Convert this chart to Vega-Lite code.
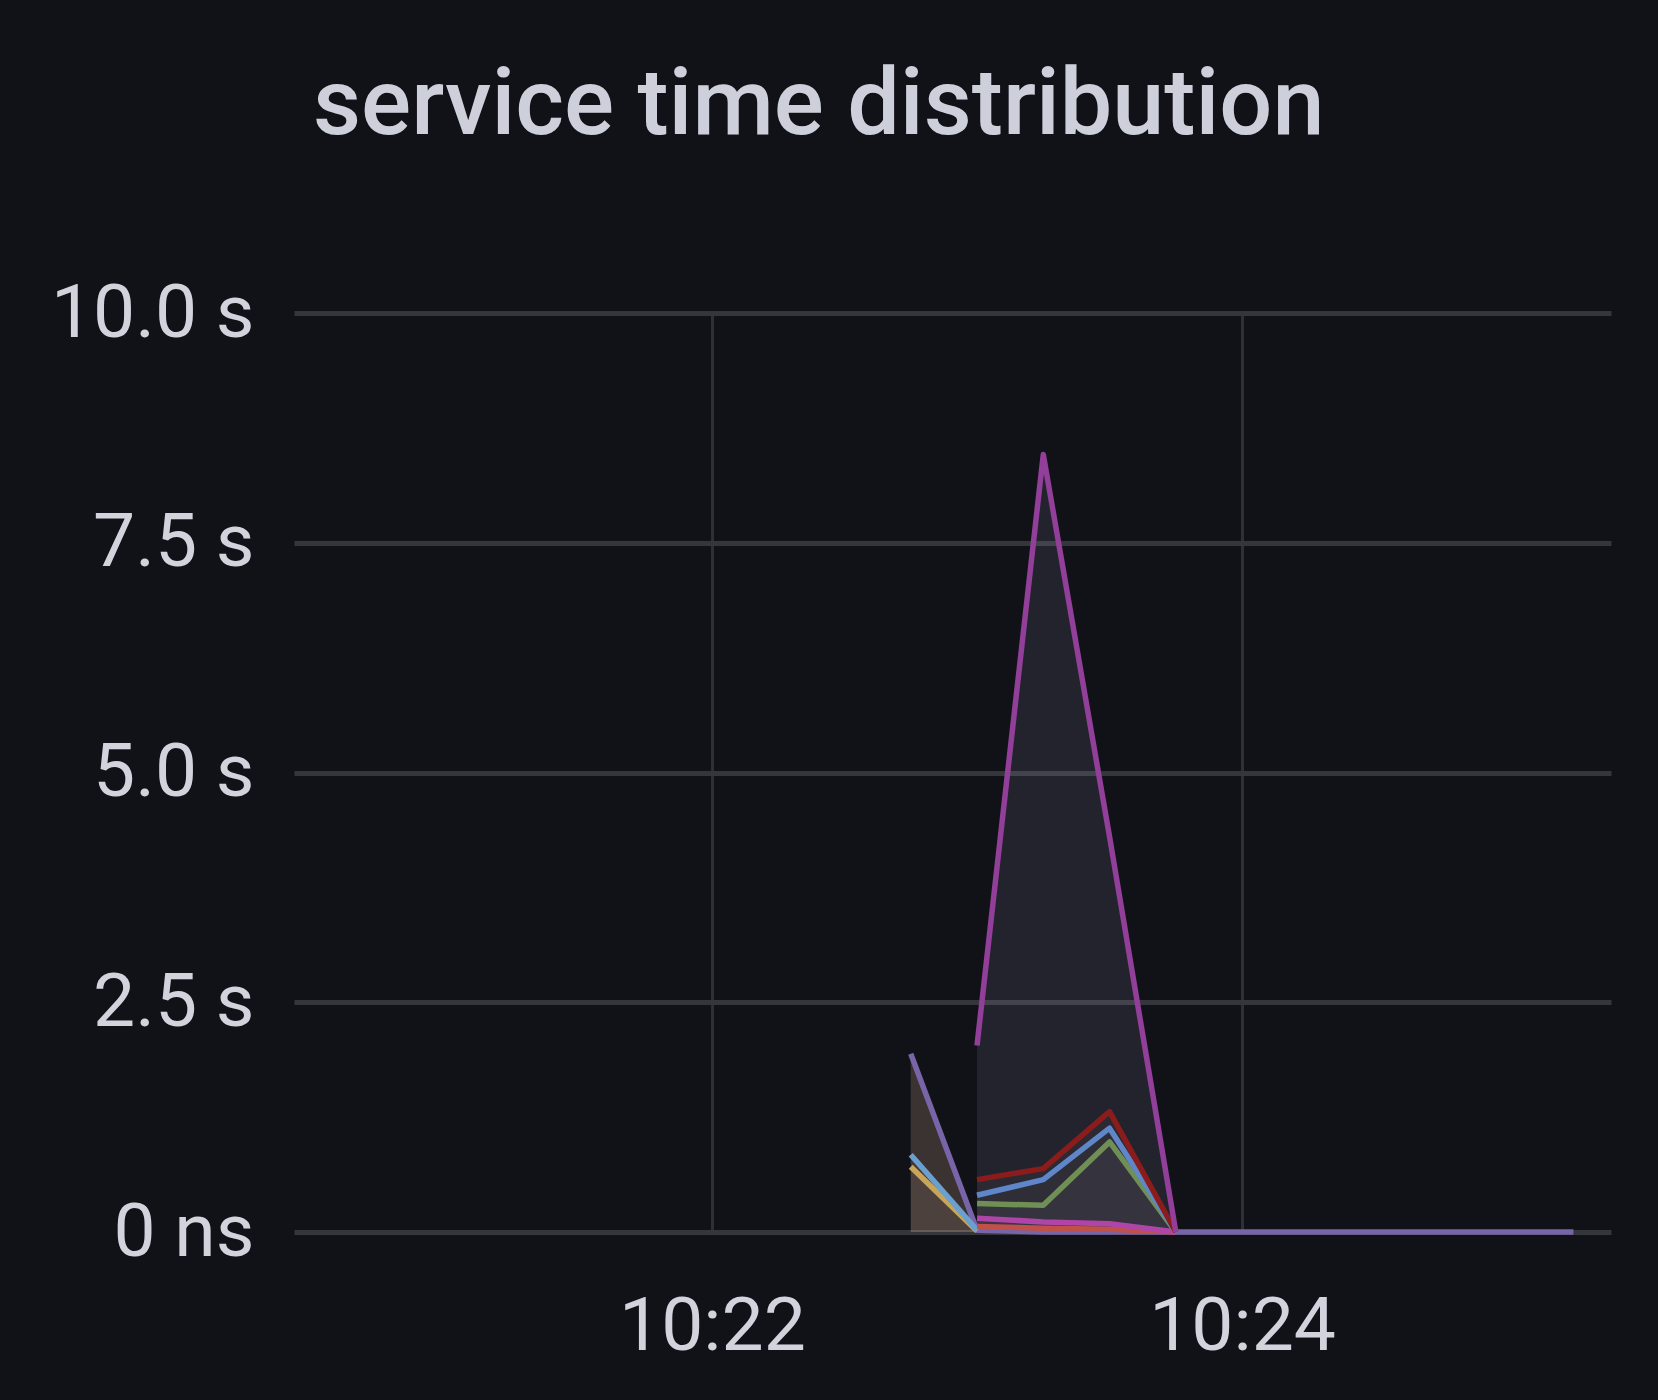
{
  "$schema": "https://vega.github.io/schema/vega-lite/v6.json",
  "width": 1317,
  "height": 919,
  "autosize": {"type": "none"},
  "padding": {"left": 294, "top": 313, "right": 47, "bottom": 168},
  "background": "#111217",
  "title": {
    "text": "service time distribution",
    "anchor": "start",
    "frame": "group",
    "orient": "top",
    "font": "Roboto",
    "fontSize": 93.5,
    "fontWeight": 500,
    "color": "#cdd0da",
    "baseline": "alphabetic",
    "offset": 49,
    "dx": 19,
    "limit": 0
  },
  "config": {
    "view": {"stroke": null},
    "axis": {
      "labelFont": "Roboto",
      "labelFontSize": 75,
      "labelColor": "#d2d3dc",
      "labelLimit": 0,
      "labelOverlap": false,
      "domain": false,
      "ticks": false,
      "title": null
    }
  },
  "data": {
    "values": [
      {"t": "2024-01-01T10:22:45Z", "v": 1.94, "s": "L_lav"},
      {"t": "2024-01-01T10:23:00Z", "v": 0.02, "s": "L_lav"},
      {"t": "2024-01-01T10:23:15Z", "v": 0, "s": "L_lav"},
      {"t": "2024-01-01T10:23:30Z", "v": 0, "s": "L_lav"},
      {"t": "2024-01-01T10:23:45Z", "v": 0, "s": "L_lav"},
      {"t": "2024-01-01T10:24:00Z", "v": 0, "s": "L_lav"},
      {"t": "2024-01-01T10:24:15Z", "v": 0, "s": "L_lav"},
      {"t": "2024-01-01T10:24:30Z", "v": 0, "s": "L_lav"},
      {"t": "2024-01-01T10:24:45Z", "v": 0, "s": "L_lav"},
      {"t": "2024-01-01T10:25:00Z", "v": 0, "s": "L_lav"},
      {"t": "2024-01-01T10:25:15Z", "v": 0, "s": "L_lav"},
      {"t": "2024-01-01T10:22:45Z", "v": 0.71, "s": "L_yel"},
      {"t": "2024-01-01T10:23:00Z", "v": 0.01, "s": "L_yel"},
      {"t": "2024-01-01T10:22:45Z", "v": 0.84, "s": "L_blu"},
      {"t": "2024-01-01T10:23:00Z", "v": 0.02, "s": "L_blu"},
      {"t": "2024-01-01T10:23:00Z", "v": 0.06, "s": "R_ora"},
      {"t": "2024-01-01T10:23:15Z", "v": 0.04, "s": "R_ora"},
      {"t": "2024-01-01T10:23:30Z", "v": 0.03, "s": "R_ora"},
      {"t": "2024-01-01T10:23:45Z", "v": 0, "s": "R_ora"},
      {"t": "2024-01-01T10:23:00Z", "v": 0.15, "s": "R_mag"},
      {"t": "2024-01-01T10:23:15Z", "v": 0.11, "s": "R_mag"},
      {"t": "2024-01-01T10:23:30Z", "v": 0.09, "s": "R_mag"},
      {"t": "2024-01-01T10:23:45Z", "v": 0, "s": "R_mag"},
      {"t": "2024-01-01T10:23:00Z", "v": 0.31, "s": "R_grn"},
      {"t": "2024-01-01T10:23:15Z", "v": 0.29, "s": "R_grn"},
      {"t": "2024-01-01T10:23:30Z", "v": 0.98, "s": "R_grn"},
      {"t": "2024-01-01T10:23:45Z", "v": 0, "s": "R_grn"},
      {"t": "2024-01-01T10:23:00Z", "v": 0.40, "s": "R_blu"},
      {"t": "2024-01-01T10:23:15Z", "v": 0.57, "s": "R_blu"},
      {"t": "2024-01-01T10:23:30Z", "v": 1.13, "s": "R_blu"},
      {"t": "2024-01-01T10:23:45Z", "v": 0, "s": "R_blu"},
      {"t": "2024-01-01T10:23:00Z", "v": 0.57, "s": "R_red"},
      {"t": "2024-01-01T10:23:15Z", "v": 0.69, "s": "R_red"},
      {"t": "2024-01-01T10:23:30Z", "v": 1.31, "s": "R_red"},
      {"t": "2024-01-01T10:23:45Z", "v": 0, "s": "R_red"},
      {"t": "2024-01-01T10:23:00Z", "v": 2.03, "s": "R_pur"},
      {"t": "2024-01-01T10:23:15Z", "v": 8.46, "s": "R_pur"},
      {"t": "2024-01-01T10:23:30Z", "v": 4.3, "s": "R_pur"},
      {"t": "2024-01-01T10:23:45Z", "v": 0, "s": "R_pur"}
    ]
  },
  "encoding": {
    "x": {
      "field": "t",
      "type": "temporal",
      "scale": {
        "type": "utc",
        "domain": [
          {"year": 2024, "month": 1, "date": 1, "hours": 10, "minutes": 20, "seconds": 25, "milliseconds": 400, "utc": true},
          {"year": 2024, "month": 1, "date": 1, "hours": 10, "minutes": 25, "seconds": 23, "milliseconds": 500, "utc": true}
        ]
      },
      "axis": {
        "values": [
          {"year": 2024, "month": 1, "date": 1, "hours": 10, "minutes": 22, "utc": true},
          {"year": 2024, "month": 1, "date": 1, "hours": 10, "minutes": 24, "utc": true}
        ],
        "format": "%H:%M",
        "formatType": "utc",
        "labelPadding": 58,
        "labelBaseline": "top",
        "grid": true,
        "gridColor": "#2f3036",
        "gridWidth": 3
      }
    },
    "y": {
      "field": "v",
      "type": "quantitative",
      "stack": null,
      "scale": {"domain": [0, 10], "nice": false, "zero": true},
      "axis": {
        "values": [0, 2.5, 5, 7.5, 10],
        "labelExpr": "datum.value == 0 ? '0 ns' : format(datum.value, '.1f') + ' s'",
        "labelPadding": 40,
        "grid": true,
        "gridColor": "#35363c",
        "gridWidth": 5
      }
    }
  },
  "layer": [
    {
      "mark": {"type": "area", "interpolate": "linear"},
      "encoding": {
        "fill": {
          "field": "s",
          "type": "nominal",
          "legend": null,
          "scale": {
            "domain": ["L_lav", "L_yel", "L_blu", "R_ora", "R_mag", "R_grn", "R_blu", "R_red", "R_pur"],
            "range": ["rgba(230,185,160,0.2)", "rgba(220,185,140,0.07)", "rgba(200,180,160,0.05)", "rgba(200,100,90,0.05)", "rgba(180,80,170,0.05)", "rgba(140,130,130,0.08)", "rgba(120,130,170,0.05)", "rgba(110,90,80,0.1)", "rgba(175,168,215,0.12)"]
          }
        }
      }
    },
    {
      "mark": {"type": "line", "interpolate": "linear", "strokeWidth": 5.5, "strokeJoin": "round"},
      "encoding": {
        "stroke": {
          "field": "s",
          "type": "nominal",
          "legend": null,
          "scale": {
            "domain": ["L_lav", "L_yel", "L_blu", "R_ora", "R_mag", "R_grn", "R_blu", "R_red", "R_pur"],
            "range": ["#7765a8", "#c9a657", "#6a9fd0", "#c0504a", "#b045a8", "#6f8f55", "#5f86c8", "#8a1c1c", "#923f9a"]
          }
        }
      }
    }
  ]
}
